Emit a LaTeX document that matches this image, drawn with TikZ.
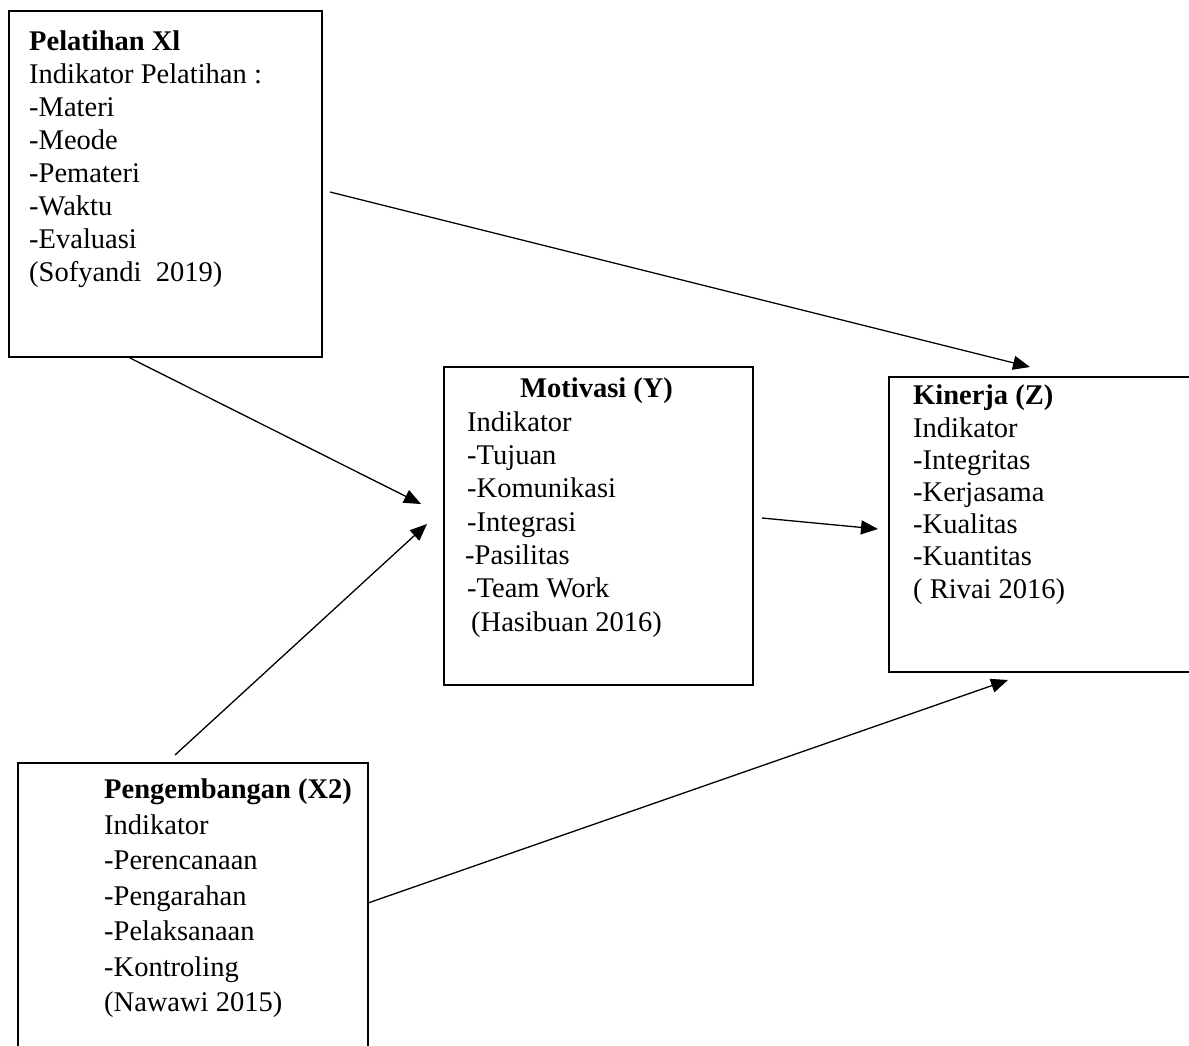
\documentclass[tikz,border=0pt]{standalone}
\usepackage{fontspec}
\setmainfont{Liberation Serif}
\usepackage{tikz}
\usetikzlibrary{arrows.meta}

\begin{document}
\begin{tikzpicture}[x=1pt,y=-1pt,
    box/.style={draw,line width=2.5pt,rectangle,anchor=north west,inner sep=0pt,outer sep=0pt},
    txt/.style={anchor=north west,inner sep=0pt,align=left,font=\fontsize{28.5}{33}\selectfont},
    arr/.style={line width=1.3pt,-{Triangle[length=17pt,width=14pt]}}]
    \clip (0,0) rectangle (1189,1045);
    \fill[white] (0,0) rectangle (1189,1045);
    % boxes
    \node[box,minimum width=313pt,minimum height=346pt] (pel) at (9,11) {};
    \node[box,minimum width=309pt,minimum height=318pt] (mot) at (444,367) {};
    \node[box,minimum width=320pt,minimum height=295pt] (kin) at (889,377) {};
    \node[box,minimum width=350pt,minimum height=300pt] (peng) at (18,763) {};
    % texts
    \node[txt] (pelT) at (29,31) {\textbf{Pelatihan Xl}\\Indikator Pelatihan :\\-Materi\\-Meode\\-Pemateri\\-Waktu\\-Evaluasi\\(Sofyandi\ \ 2019)};
    \node[txt,font=\fontsize{28.5}{33.3}\selectfont] (motT) at (467,378) {\hspace*{53pt}\textbf{Motivasi (Y)}\\Indikator\\-Tujuan\\-Komunikasi\\-Integrasi\\\hspace*{-2pt}-Pasilitas\\-Team Work\\\hspace*{4pt}(Hasibuan 2016)};
    \node[txt,font=\fontsize{28.5}{32.2}\selectfont] (kinT) at (913,385) {\textbf{Kinerja (Z)}\\Indikator\\-Integritas\\-Kerjasama\\-Kualitas\\-Kuantitas\\( Rivai 2016)};
    \node[txt,font=\fontsize{28.5}{35.5}\selectfont] (pengT) at (104,779) {\textbf{Pengembangan (X2)}\\Indikator\\-Perencanaan\\-Pengarahan\\-Pelaksanaan\\-Kontroling\\(Nawawi 2015)};
    % arrows
    \draw[arr] ([xshift=8pt,yshift=-8pt]pel.east) -- ([xshift=141pt,yshift=10pt]kin.north west);
    \draw[arr] ([xshift=-35.5pt,yshift=-1pt]pel.south) -- ([xshift=-23pt,yshift=22pt]mot.west);
    \draw[arr] ([xshift=157pt,yshift=8pt]peng.north west) -- ([xshift=-17pt,yshift=2pt]mot.west);
    \draw[arr] ([xshift=9pt,yshift=8pt]mot.east) -- ([xshift=-11pt,yshift=-4.5pt]kin.west);
    \draw[arr] ([yshift=10pt]peng.east) -- ([xshift=119pt,yshift=-8pt]kin.south west);
\end{tikzpicture}
\end{document}
